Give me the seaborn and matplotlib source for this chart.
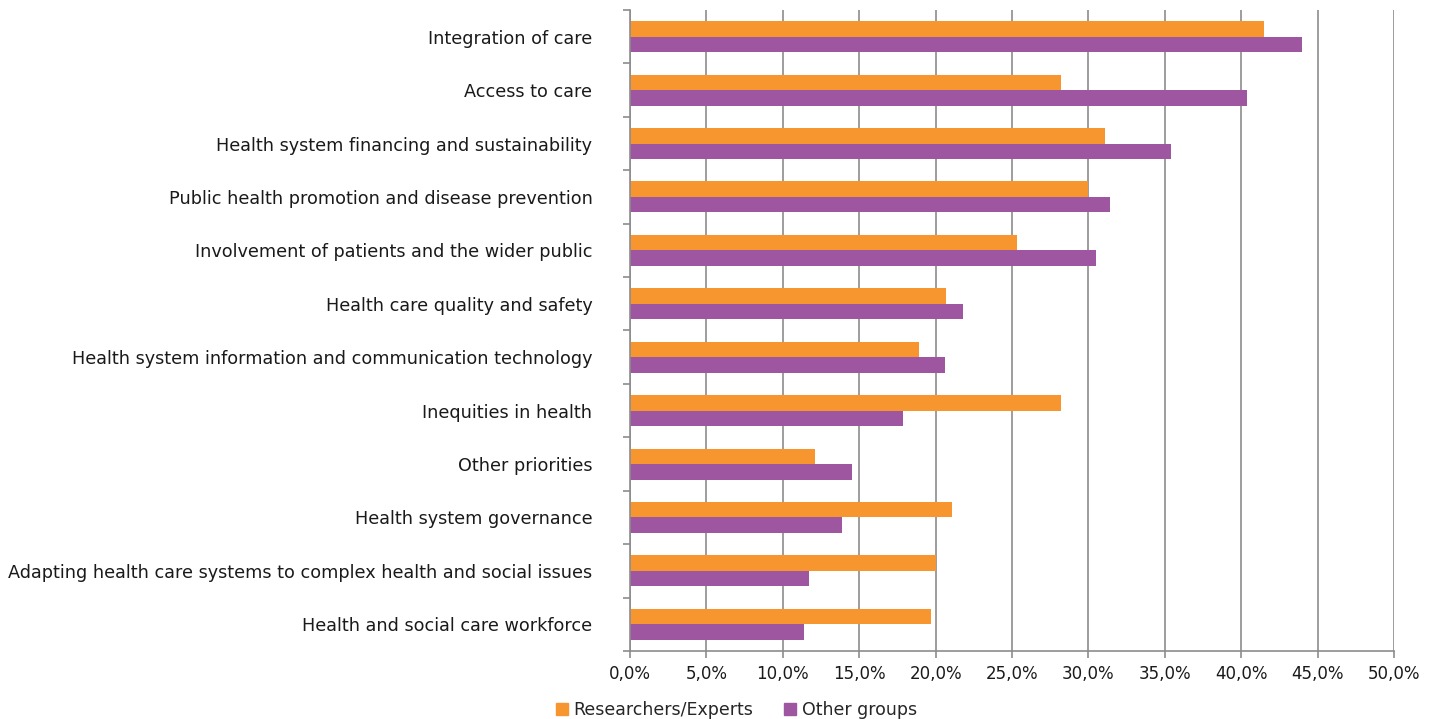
import pandas as pd
import seaborn as sns
import matplotlib.pyplot as plt
from matplotlib.ticker import FuncFormatter, MultipleLocator, FixedLocator
from matplotlib.patches import Patch

categories = [
    "Integration of care",
    "Access to care",
    "Health system financing and sustainability",
    "Public health promotion and disease prevention",
    "Involvement of patients and the wider public",
    "Health care quality and safety",
    "Health system information and communication technology",
    "Inequities in health",
    "Other priorities",
    "Health system governance",
    "Adapting health care systems to complex health and social issues",
    "Health and social care workforce",
]
researchers = [41.5, 28.2, 31.1, 30.0, 25.3, 20.7, 18.9, 28.2, 12.1, 21.1, 20.0, 19.7]
others = [44.0, 40.4, 35.4, 31.4, 30.5, 21.8, 20.6, 17.9, 14.5, 13.9, 11.7, 11.4]
groups = ["Researchers/Experts", "Other groups"]
colors = ["#F7962E", "#9E56A0"]

df = pd.DataFrame({
    "cat": categories * 2,
    "val": researchers + others,
    "grp": [groups[0]] * len(categories) + [groups[1]] * len(categories),
})

sns.set_style("white")
plt.rcParams["font.family"] = ["DejaVu Sans"]

fig = plt.figure(figsize=(14.35, 7.19), dpi=100)
ax = fig.add_axes([0.439, 0.0946, 0.5324, 0.8915])

sns.barplot(data=df, y="cat", x="val", hue="grp", orient="h", ax=ax,
            palette=colors, width=0.58, gap=0, legend=False, saturation=1,
            linewidth=0)

ax.set_xlim(0, 50)
ax.set_ylim(len(categories) - 0.5, -0.5)
ax.xaxis.set_major_locator(MultipleLocator(5))
ax.xaxis.set_major_formatter(FuncFormatter(lambda v, p: f"{v:.1f}%".replace(".", ",")))
ax.grid(axis="x", color="#8c8c8c", lw=1.2)
ax.set_axisbelow(True)
ax.set_xlabel("")
ax.set_ylabel("")

ax.yaxis.set_minor_locator(FixedLocator([i - 0.5 for i in range(len(categories) + 1)]))
ax.tick_params(axis="y", which="major", length=0, pad=27, labelsize=12.7, colors="#1a1a1a")
ax.tick_params(axis="y", which="minor", length=5, left=True, color="#8c8c8c", width=1.2)
ax.tick_params(axis="x", which="major", length=5, bottom=True, color="#8c8c8c", width=1.2,
               labelsize=12, pad=5, labelcolor="#1a1a1a")

for s in ["top", "right"]:
    ax.spines[s].set_visible(False)
for s in ["left", "bottom"]:
    ax.spines[s].set_color("#8c8c8c")
    ax.spines[s].set_linewidth(1.2)

handles = [Patch(color=c, label=g) for c, g in zip(colors, groups)]
fig.legend(handles=handles, loc="lower center", bbox_to_anchor=(0.513, -0.022), ncol=2,
           frameon=False, fontsize=12.5, handlelength=0.7, handleheight=0.7,
           handletextpad=0.3, columnspacing=1.8)

fig.savefig("out.png", dpi=100)
